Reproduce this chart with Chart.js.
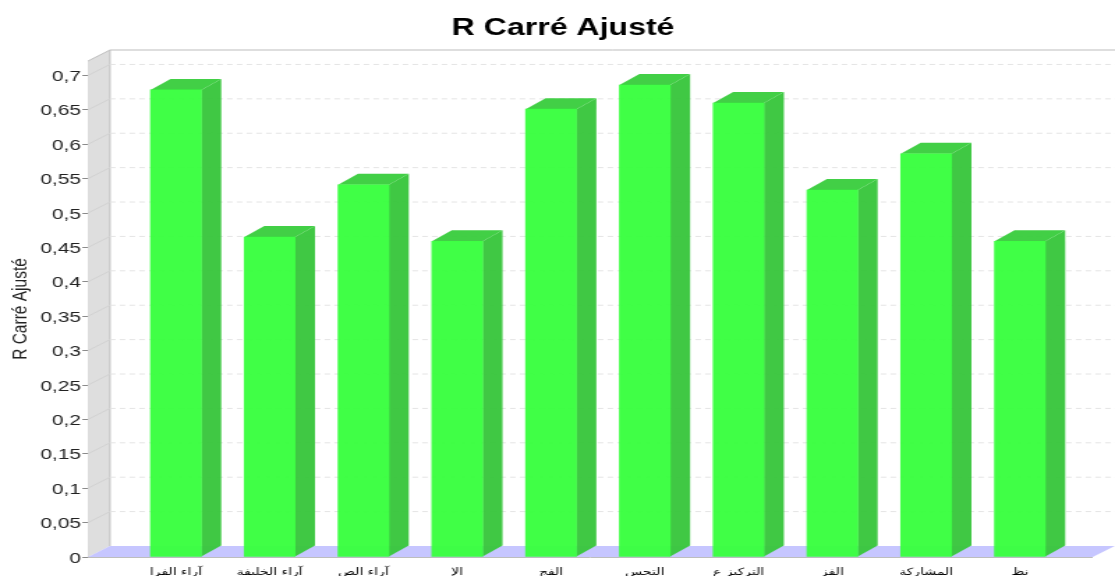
<!DOCTYPE html>
<html>
<head>
<meta charset="utf-8">
<script src="https://cdn.jsdelivr.net/npm/chart.js@4/dist/chart.umd.min.js"></script>
<style>
  html, body { margin: 0; padding: 0; background: #fff; overflow: hidden; }
  /* the reference is a picture stretched sideways, so the canvas is too */
  #chart { width: 1115px !important; height: 576px !important; display: block; }
</style>
</head>
<body>
<canvas id="chart" width="800" height="576"></canvas>
<script>
var categories = ["آراء الفرا", "آراء الخليفة", "آراء الص", "الإ", "الفج", "التجس", "التركيز ع", "الفز", "المشاركة", "نظ"];
var values = [0.679, 0.465, 0.541, 0.459, 0.651, 0.686, 0.660, 0.5335, 0.586, 0.459];
var yTicks = [0, 0.05, 0.1, 0.15, 0.2, 0.25, 0.3, 0.35, 0.4, 0.45, 0.5, 0.55, 0.6, 0.65, 0.7];

var depthX = 15.8, depthY = 11;
var barDepthX = 14.3;
var floorInset = 16;

function face(ctx, pts, fill) {
  ctx.beginPath();
  ctx.moveTo(pts[0][0], pts[0][1]);
  for (var i = 1; i < pts.length; i++) ctx.lineTo(pts[i][0], pts[i][1]);
  ctx.closePath();
  ctx.fillStyle = fill;
  ctx.fill();
}

var box3d = {
  id: 'box3d',
  beforeDatasetsDraw: function(chart) {
    var ctx = chart.ctx, a = chart.chartArea, y = chart.scales.y;
    var right = a.right - floorInset;
    ctx.save();
    // left wall and floor
    face(ctx, [[a.left, a.bottom], [a.left + depthX, a.bottom - depthY], [a.left + depthX, a.top - depthY], [a.left, a.top]], '#dedede');
    face(ctx, [[a.left, a.bottom], [a.left + depthX, a.bottom - depthY], [right + depthX, a.bottom - depthY], [right, a.bottom]], '#c6c6ff');

    ctx.lineWidth = 1;
    ctx.strokeStyle = '#bdbdbd';
    ctx.beginPath();
    ctx.moveTo(a.left, a.top);
    ctx.lineTo(a.left + depthX, a.top - depthY);
    ctx.lineTo(chart.width, a.top - depthY);
    ctx.moveTo(a.left + depthX, a.top - depthY);
    ctx.lineTo(a.left + depthX, a.bottom - depthY);
    ctx.moveTo(a.left, a.bottom + 0.5);
    ctx.lineTo(right, a.bottom + 0.5);
    ctx.stroke();

    // grid lines on the back wall, carried over the left wall
    yTicks.forEach(function(t) {
      if (t === 0) return;
      var py = y.getPixelForValue(t);
      ctx.strokeStyle = '#d2d2d2';
      ctx.beginPath();
      ctx.moveTo(a.left, py);
      ctx.lineTo(a.left + depthX, py - depthY);
      ctx.stroke();
      ctx.strokeStyle = '#e4e4e4';
      ctx.setLineDash([4, 3]);
      ctx.beginPath();
      ctx.moveTo(a.left + depthX, py - depthY);
      ctx.lineTo(chart.width, py - depthY);
      ctx.stroke();
      ctx.setLineDash([]);
    });

    // side and top of every bar
    chart.getDatasetMeta(0).data.forEach(function(bar) {
      var l = bar.x - bar.width / 2, r = bar.x + bar.width / 2;
      face(ctx, [[r, bar.y], [r + barDepthX, bar.y - depthY], [r + barDepthX, bar.base - depthY], [r, bar.base]], 'rgba(58,198,62,0.97)');
      face(ctx, [[l, bar.y], [l + barDepthX, bar.y - depthY], [r + barDepthX, bar.y - depthY], [r, bar.y]], 'rgba(60,205,64,0.97)');
    });
    ctx.restore();
  }
};

new Chart(document.getElementById('chart'), {
  type: 'bar',
  data: {
    datasets: [{
      data: values.map(function(v, i) { return { x: i, y: v }; }),
      backgroundColor: 'rgba(56,255,62,0.96)',
      borderWidth: 0,
      barThickness: 36.4
    }]
  },
  options: {
    responsive: false,
    animation: false,
    devicePixelRatio: 1,
    layout: { padding: { left: 8, right: 0, top: 0, bottom: 0 } },
    plugins: {
      legend: { display: false },
      tooltip: { enabled: false },
      title: {
        display: true,
        text: 'R Carré Ajusté',
        color: '#000',
        font: { family: '"Liberation Sans"', size: 23, weight: 'bold', lineHeight: 1.2 },
        padding: { top: 15, bottom: 18.4 }
      }
    },
    scales: {
      x: {
        type: 'linear',
        offset: false,
        min: -0.938,
        max: 10.014,
        afterBuildTicks: function(s) { s.ticks = categories.map(function(c, i) { return { value: i }; }); },
        afterFit: function(s) { s.height = 19; },
        grid: { display: false },
        border: { display: false },
        ticks: {
          autoSkip: false,
          maxRotation: 0,
          minRotation: 0,
          padding: 1,
          color: '#000',
          font: { family: '"DejaVu Sans"', size: 10 },
          callback: function(v) { return categories[v]; }
        }
      },
      y: {
        min: 0,
        max: 0.721,
        afterBuildTicks: function(s) { s.ticks = yTicks.map(function(t) { return { value: t }; }); },
        afterFit: function(s) { s.width = 55.1; },
        grid: { drawOnChartArea: false, drawTicks: true, tickLength: 4, color: '#8a8a8a' },
        border: { display: true, color: '#bdbdbd' },
        title: {
          display: true,
          text: 'R Carré Ajusté',
          color: '#222',
          font: { family: '"Liberation Sans"', size: 15.5 },
          padding: { top: -3, bottom: 0 }
        },
        ticks: {
          padding: 1,
          labelOffset: 1.5,
          color: '#222',
          font: { family: '"Liberation Sans"', size: 15 },
          callback: function(v) { return String(v).replace('.', ','); }
        }
      }
    }
  },
  plugins: [box3d]
});
</script>
</body>
</html>
